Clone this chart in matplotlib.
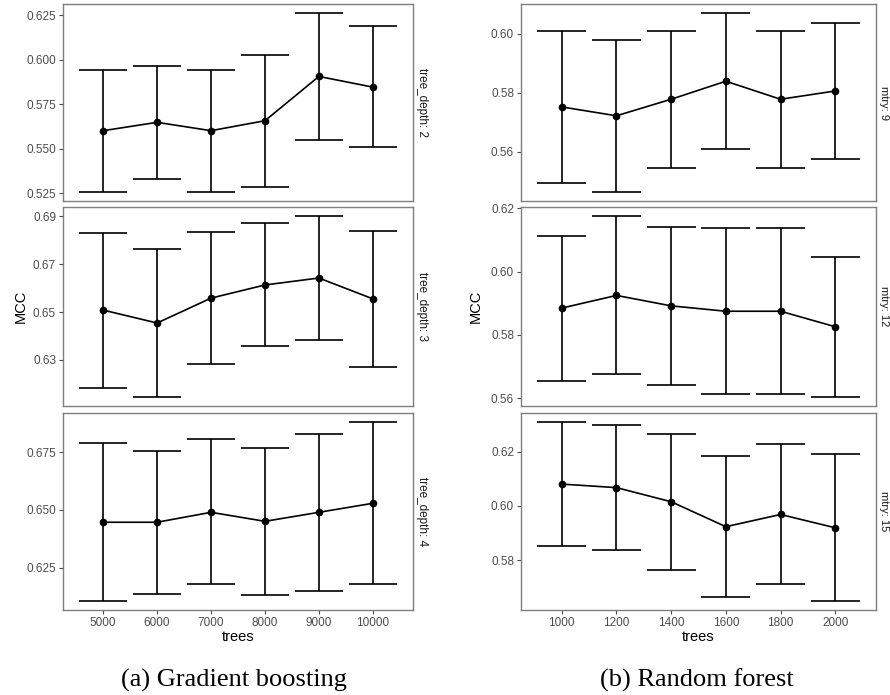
import matplotlib
matplotlib.use("Agg")
from matplotlib import pyplot as plt
from matplotlib.transforms import offset_copy

plt.rcParams['font.family'] = ['Liberation Sans', 'DejaVu Sans']

# gradient boosting: trees vs MCC for three tree depths
gb_trees = [5000, 6000, 7000, 8000, 9000, 10000]
gb_depths = ["tree_depth: 2", "tree_depth: 3", "tree_depth: 4"]
gb_mean = [
    [0.5601, 0.5648, 0.5601, 0.5657, 0.5906, 0.5846],
    [0.6508, 0.6454, 0.6558, 0.6613, 0.6642, 0.6555],
    [0.6447, 0.6447, 0.6490, 0.6451, 0.6490, 0.6529],
]
gb_low = [
    [0.5257, 0.5332, 0.5256, 0.5286, 0.5551, 0.5508],
    [0.6184, 0.6145, 0.6283, 0.6358, 0.6381, 0.6272],
    [0.6106, 0.6135, 0.6178, 0.6134, 0.6151, 0.6178],
]
gb_high = [
    [0.5945, 0.5964, 0.5945, 0.6029, 0.6263, 0.6190],
    [0.6831, 0.6764, 0.6834, 0.6871, 0.6901, 0.6838],
    [0.6789, 0.6756, 0.6806, 0.6767, 0.6830, 0.6881],
]
gb_yticks = [
    [0.525, 0.550, 0.575, 0.600, 0.625],
    [0.63, 0.65, 0.67, 0.69],
    [0.625, 0.650, 0.675],
]
gb_ylabels = [
    ["0.525", "0.550", "0.575", "0.600", "0.625"],
    ["0.63", "0.65", "0.67", "0.69"],
    ["0.625", "0.650", "0.675"],
]

# random forest: trees vs MCC for three mtry values
rf_trees = [1000, 1200, 1400, 1600, 1800, 2000]
rf_mtry = ["mtry: 9", "mtry: 12", "mtry: 15"]
rf_mean = [
    [0.5752, 0.5722, 0.5778, 0.5839, 0.5778, 0.5806],
    [0.5885, 0.5925, 0.5892, 0.5875, 0.5875, 0.5826],
    [0.6080, 0.6067, 0.6015, 0.5923, 0.5968, 0.5919],
]
rf_low = [
    [0.5496, 0.5464, 0.5544, 0.5608, 0.5544, 0.5576],
    [0.5655, 0.5675, 0.5642, 0.5612, 0.5612, 0.5604],
    [0.5852, 0.5837, 0.5764, 0.5665, 0.5713, 0.5649],
]
rf_high = [
    [0.6008, 0.5980, 0.6010, 0.6070, 0.6010, 0.6036],
    [0.6113, 0.6176, 0.6142, 0.6138, 0.6138, 0.6047],
    [0.6309, 0.6299, 0.6266, 0.6182, 0.6226, 0.6190],
]
rf_yticks = [
    [0.56, 0.58, 0.60],
    [0.56, 0.58, 0.60, 0.62],
    [0.58, 0.60, 0.62],
]
rf_ylabels = [
    ["0.56", "0.58", "0.60"],
    ["0.56", "0.58", "0.60", "0.62"],
    ["0.58", "0.60", "0.62"],
]

W, H = 890, 695
fig = plt.figure(figsize=(W / 100, H / 100), dpi=100)

rows = [(4, 201), (207, 406), (413, 610)]


def px_axes(x0, x1, y0, y1):
    return fig.add_axes([x0 / W, 1 - y1 / H, (x1 - x0) / W, (y1 - y0) / H])


def facet(ax, x, mean, low, high, yticks, ylabels, strip, cap, bottom, strip_size):
    ax.vlines(x, low, high, color="black", lw=1.2)
    ax.hlines(low, [v - cap / 2 for v in x], [v + cap / 2 for v in x], color="black", lw=1.2)
    ax.hlines(high, [v - cap / 2 for v in x], [v + cap / 2 for v in x], color="black", lw=1.2)
    ax.plot(x, mean, color="black", lw=1.2, marker="o", ms=4.5)
    ax.margins(x=0.05, y=0.05)
    ax.set_yticks(yticks)
    ax.set_yticklabels(ylabels)
    ax.set_xticks(x)
    ax.tick_params(colors="#4d4d4d", labelsize=8.5, length=3, width=0.8, pad=2)
    for s in ax.spines.values():
        s.set_color("#7f7f7f")
        s.set_linewidth(1.0)
    if bottom:
        ax.set_xticklabels([str(v) for v in x])
        ax.set_xlabel("trees", fontsize=10.5, labelpad=1)
    else:
        ax.tick_params(axis="x", length=0, labelbottom=False)
    # facet strip label on the right, no background
    tr = offset_copy(ax.transAxes, fig=fig, x=2.5, y=0, units="points")
    ax.text(1.0, 0.5, strip, transform=tr, rotation=270,
            ha="left", va="center", fontsize=strip_size, color="#1a1a1a")


for i, (y0, y1) in enumerate(rows):
    ax = px_axes(63, 413, y0, y1)
    facet(ax, gb_trees, gb_mean[i], gb_low[i], gb_high[i],
          gb_yticks[i], gb_ylabels[i], gb_depths[i], 900, i == 2, 8.5)
    if i == 1:
        ax.set_ylabel("MCC", fontsize=10.5, labelpad=4)

    ax = px_axes(521, 876, y0, y1)
    facet(ax, rf_trees, rf_mean[i], rf_low[i], rf_high[i],
          rf_yticks[i], rf_ylabels[i], rf_mtry[i], 180, i == 2, 8)
    if i == 1:
        ax.set_ylabel("MCC", fontsize=10.5, labelpad=6)

fig.text(234 / W, 1 - 680 / H, "(a) Gradient boosting", ha="center", va="center",
         fontsize=19, family=["Liberation Serif", "DejaVu Serif"])
fig.text(697 / W, 1 - 680 / H, "(b) Random forest", ha="center", va="center",
         fontsize=19, family=["Liberation Serif", "DejaVu Serif"])

fig.savefig("out.png", dpi=100, facecolor="white")
